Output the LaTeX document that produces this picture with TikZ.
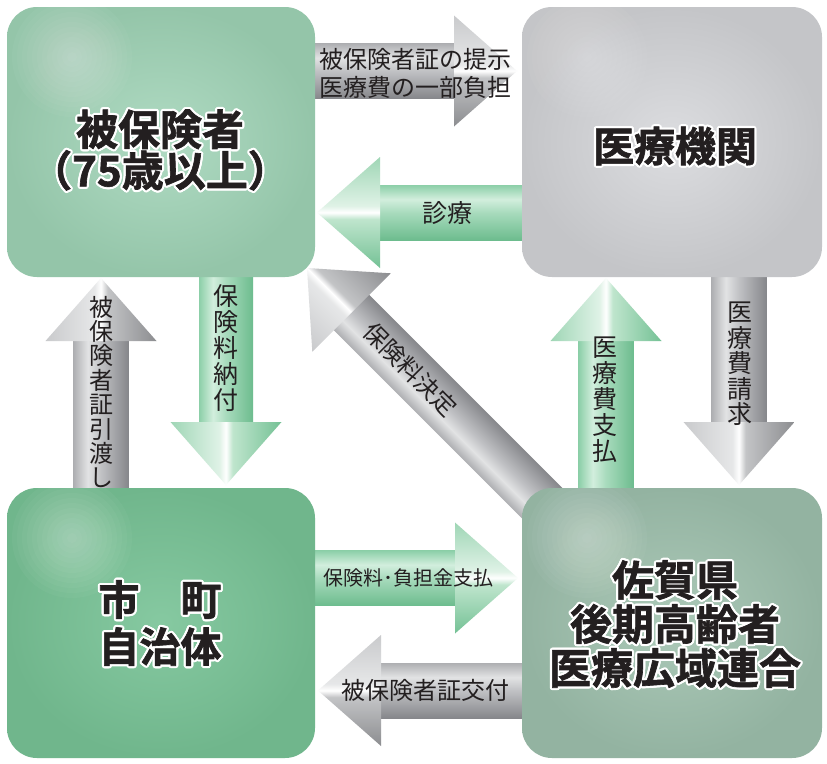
\documentclass[tikz,border=0pt]{standalone}
\usepackage{fontspec}
\setmainfont{Noto Sans CJK JP}[BoldFont={Noto Sans CJK JP Bold}]
\newfontfamily\titlefont{Noto Sans CJK JP Bold}[FakeBold=1.5]
\usetikzlibrary{calc}

\definecolor{gs1}{HTML}{AEAFB2}
\definecolor{gs2}{HTML}{E2E3E4}
\definecolor{gs3}{HTML}{C0C1C4}
\definecolor{gs4}{HTML}{86878B}
\definecolor{gh1}{HTML}{C9CACC}
\definecolor{gh2}{HTML}{E6E7E8}
\definecolor{gh3}{HTML}{C3C4C6}
\definecolor{gh4}{HTML}{8C8D90}
\definecolor{ks1}{HTML}{8CCFA8}
\definecolor{ks2}{HTML}{D2EEDD}
\definecolor{ks3}{HTML}{A8DBBD}
\definecolor{ks4}{HTML}{6DBC8E}
\definecolor{kh1}{HTML}{9FD6B5}
\definecolor{kh2}{HTML}{DFF2E6}
\definecolor{kh3}{HTML}{BFE5CD}
\definecolor{kh4}{HTML}{74C195}
\definecolor{txt}{HTML}{231F20}
\definecolor{b1in}{HTML}{B0DBC3}
\definecolor{b1out}{HTML}{94C5A9}
\definecolor{b2in}{HTML}{DCDDE0}
\definecolor{b2out}{HTML}{C4C5C8}
\definecolor{b3in}{HTML}{86C9A1}
\definecolor{b3out}{HTML}{70B68C}
\definecolor{b4in}{HTML}{ACC9B8}
\definecolor{b4out}{HTML}{93B3A1}

\pgfdeclarehorizontalshading{grayshaft}{100bp}{color(0bp)=(gs1); color(25bp)=(gs1); color(38bp)=(gs2); color(50bp)=(gs3); color(75bp)=(gs4); color(100bp)=(gs4)}
\pgfdeclarehorizontalshading{grayhead}{100bp}{color(0bp)=(gh1); color(25bp)=(gh1); color(47bp)=(gh2); color(50bp)=(white); color(53bp)=(gh3); color(75bp)=(gh4); color(100bp)=(gh4)}
\pgfdeclarehorizontalshading{greenshaft}{100bp}{color(0bp)=(ks1); color(25bp)=(ks1); color(38bp)=(ks2); color(50bp)=(ks3); color(75bp)=(ks4); color(100bp)=(ks4)}
\pgfdeclarehorizontalshading{greenhead}{100bp}{color(0bp)=(kh1); color(25bp)=(kh1); color(47bp)=(kh2); color(50bp)=(white); color(53bp)=(kh3); color(75bp)=(kh4); color(100bp)=(kh4)}

% #1 tip coordinate, #2 angle, #3 length, #4 colour set (gray/green), #5 shading angle, #6 shaft half width
\newcommand\blockarrow[6]{%
  \begin{scope}[transform canvas={shift={(#1)}, rotate=#2}]
    \shade[shading=#4shaft, shading angle=#5] (-#3,-#6) rectangle (-62,#6);
    \shade[shading=#4head, shading angle=#5] (-63,-55.5) -- (0,0) -- (-63,55.5) -- cycle;
  \end{scope}}

% #1 name, #2 coordinate, #3 style, #4 text  (white rim, then black text)
\newcommand\outlinedtext[4]{%
  \foreach \oa in {0,30,...,330}{\node[#3,text=white] at ($(#2)+(\oa:2.2)$) {#4};}
  \node[#3] (#1) at (#2) {#4};}

\tikzset{
  box/.style={rectangle, rounded corners=30pt, inner sep=0pt, minimum height=270pt,
    path picture={\foreach \r in {60,55,...,5}{\fill[white, fill opacity=0.035]
      ($(path picture bounding box.north west)+(65,50)$) circle[radius=\r pt];}}},
  boxtitle/.style={font=\titlefont\fontsize{41}{38}\selectfont, align=center, inner sep=0pt, text=txt},
  hlab/.style={font=\fontsize{24}{28}\selectfont, align=center, inner sep=0pt, text=txt},
  vlab/.style={font=\fontsize{24}{26}\selectfont, align=center, inner sep=0pt, text=txt},
}

\begin{document}
\begin{tikzpicture}[x=1pt,y=-1pt]
\useasboundingbox (0,0) rectangle (827,763);
\fill[white] (0,0) rectangle (827,763);

% arrow tips
\coordinate (t1) at (517,71);
\coordinate (t2) at (317,212.5);
\coordinate (t3) at (226,485);
\coordinate (t4) at (101,278);
\coordinate (t5) at (307,268);
\coordinate (t6) at (606,278);
\coordinate (t7) at (739,485);
\coordinate (t8) at (518,578);
\coordinate (t9) at (318,690.5);

\blockarrow{t1}{0}{217}{gray}{-90}{27.5}
\blockarrow{t2}{180}{223}{green}{90}{27.5}
\blockarrow{t3}{-90}{225}{green}{90}{27}
\blockarrow{t4}{90}{222}{gray}{-90}{27.5}
\blockarrow{t5}{135}{372}{gray}{-90}{25}
\blockarrow{t6}{90}{222}{green}{-90}{27.5}
\blockarrow{t7}{-90}{225}{gray}{90}{27.5}
\blockarrow{t8}{0}{218}{green}{-90}{27.5}
\blockarrow{t9}{180}{222}{gray}{90}{27.5}

% boxes
\node[box, minimum width=308pt, inner color=b1in, outer color=b1out] (b1) at (161,142) {};
\node[box, minimum width=300pt, inner color=b2in, outer color=b2out] (b2) at (672,142) {};
\node[box, minimum width=308pt, inner color=b3in, outer color=b3out] (b3) at (161,623) {};
\node[box, minimum width=300pt, inner color=b4in, outer color=b4out] (b4) at (672,623) {};

% box titles
\coordinate (c1) at (160,150);
\coordinate (c2) at (675,146);
\coordinate (c3) at (160,623);
\coordinate (c4) at (675,624);
\outlinedtext{n1}{c1}{boxtitle, font=\titlefont\fontsize{42}{37}\selectfont}{被保険者\\（75歳以上）}
\outlinedtext{n2}{c2}{boxtitle}{医療機関}
\outlinedtext{n3}{c3}{boxtitle, font=\titlefont\fontsize{41}{47}\selectfont}{市　町\\自治体}
\outlinedtext{n4}{c4}{boxtitle, font=\titlefont\fontsize{42}{44}\selectfont}{佐賀県\\後期高齢者\\医療広域連合}

% arrow labels
\node[hlab] (l1) at (415.5,73) {被保険者証の提示\\医療費の一部負担};
\node[hlab, font=\fontsize{25}{28}\selectfont] (l2) at (447,213) {診療};
\node[vlab, font=\fontsize{25}{26}\selectfont] (l3) at (226,348) {保\\険\\料\\納\\付};
\node[vlab, font=\fontsize{24}{24.4}\selectfont] (l4) at (101,392) {被\\保\\険\\者\\証\\引\\渡\\し};
\node[hlab, rotate=-45] (l5) at (410,370) {保険料決定};
\node[vlab, font=\fontsize{25}{26}\selectfont] (l6) at (605,400) {医\\療\\費\\支\\払};
\node[vlab, font=\fontsize{25}{25.6}\selectfont] (l7) at (740,364) {医\\療\\費\\請\\求};
\node[hlab, font=\fontsize{20}{24}\selectfont] (l8) at (408,578) {保険料･負担金支払};
\node[hlab] (l9) at (425,690) {被保険者証交付};
\end{tikzpicture}
\end{document}
